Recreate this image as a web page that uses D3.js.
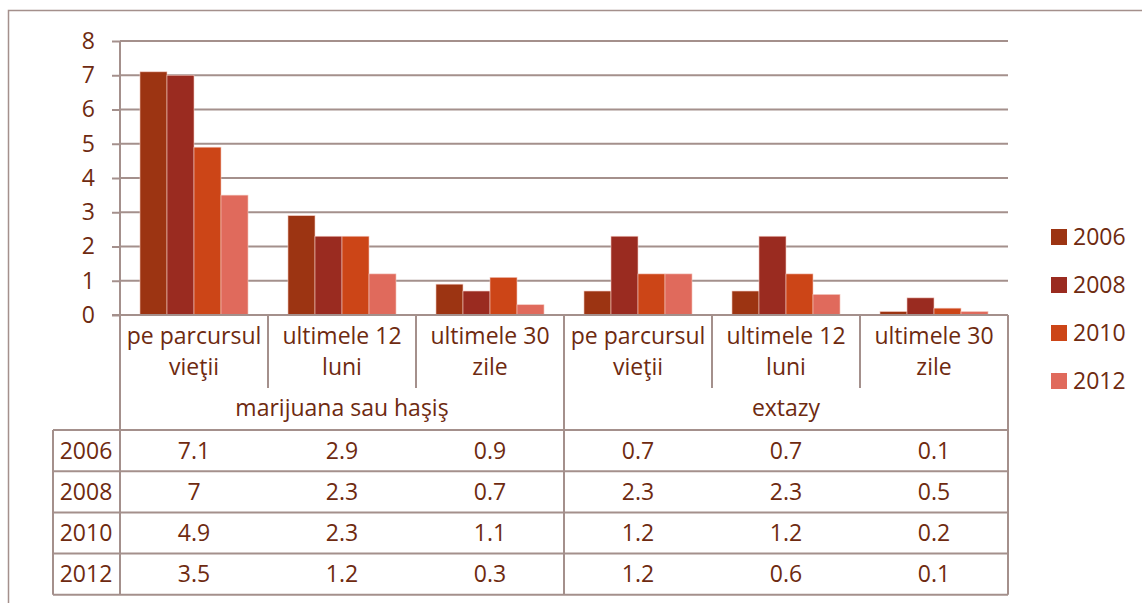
<!DOCTYPE html>
<html>
<head>
<meta charset="utf-8">
<script src="https://cdn.jsdelivr.net/npm/d3@7"></script>
<style>
  body { margin: 0; background: #fff; }
  svg { font-family: "Open Sans", Lato, sans-serif; }
</style>
</head>
<body>
<svg id="chart"></svg>
<script>
// Data
const groups = ["marijuana sau haşiş", "extazy"];
const periods = [["pe parcursul", "vieţii"], ["ultimele 12", "luni"], ["ultimele 30", "zile"]];
const years = ["2006", "2008", "2010", "2012"];
const values2006 = [7.1, 2.9, 0.9, 0.7, 0.7, 0.1];
const values2008 = [7, 2.3, 0.7, 2.3, 2.3, 0.5];
const values2010 = [4.9, 2.3, 1.1, 1.2, 1.2, 0.2];
const values2012 = [3.5, 1.2, 0.3, 1.2, 0.6, 0.1];
const yTicks = [0, 1, 2, 3, 4, 5, 6, 7, 8];

const series = [values2006, values2008, values2010, values2012];
const colors = ["#9c3412", "#9a2b20", "#cc4517", "#e06a5c"];
const textColor = "#6e2a10";
const lineColor = "#a4908c";
const fontSize = 23;

const width = 1142, height = 603;
const svg = d3.select("#chart").attr("width", width).attr("height", height);

// category keys
const cats = [];
groups.forEach((g, gi) => periods.forEach((p, pi) => cats.push({ key: gi + "-" + pi, group: g, gi, label: p })));

const x = d3.scaleBand().domain(cats.map(d => d.key)).range([120, 1008]).padding(0);
const xInner = d3.scaleBand().domain(years).range([0, x.bandwidth()]).paddingInner(0).paddingOuter(0.74);
const y = d3.scaleLinear().domain([0, 8]).range([315, 41]);

// outer frame
svg.append("rect")
  .attr("x", 8.5).attr("y", 10.5).attr("width", 1140).attr("height", 610)
  .attr("fill", "none").attr("stroke", lineColor).attr("stroke-width", 1.5);

// gridlines + y labels
const yAxis = svg.append("g").attr("transform", "translate(120,0)")
  .call(d3.axisLeft(y).tickValues(yTicks).tickSize(8).tickPadding(17).tickFormat(d3.format("d")));
yAxis.select(".domain").remove();
yAxis.selectAll(".tick line").attr("stroke", lineColor).attr("stroke-width", 2);
yAxis.selectAll(".tick text").attr("fill", textColor).attr("font-size", fontSize)
  .attr("font-family", "'Open Sans', Lato, sans-serif");

svg.append("g").selectAll("line").data(yTicks.filter(d => d > 0)).join("line")
  .attr("x1", 120).attr("x2", 1008)
  .attr("y1", d => y(d)).attr("y2", d => y(d))
  .attr("stroke", lineColor).attr("stroke-width", 2);

// bars
const barG = svg.append("g");
years.forEach((yr, si) => {
  barG.append("g").selectAll("rect").data(series[si]).join("rect")
    .attr("x", (d, i) => x(cats[i].key) + xInner(yr))
    .attr("y", d => y(d))
    .attr("width", xInner.bandwidth())
    .attr("height", d => y(0) - y(d))
    .attr("fill", colors[si])
    .attr("stroke", "#f3c9c0").attr("stroke-width", 0.6);
});

// baseline
svg.append("line").attr("x1", 112).attr("x2", 1008).attr("y1", y(0)).attr("y2", y(0))
  .attr("stroke", lineColor).attr("stroke-width", 2);

// vertical axis line down to table bottom
const tableTop = 430, rowH = 41.2;
const tableBottom = tableTop + rowH * years.length;
svg.append("line").attr("x1", 120).attr("x2", 120).attr("y1", y(8)).attr("y2", tableBottom)
  .attr("stroke", lineColor).attr("stroke-width", 2);

// category dividers
cats.forEach((c, i) => {
  const xr = x(c.key) + x.bandwidth();
  const isGroupEnd = i % periods.length === periods.length - 1;
  svg.append("line").attr("x1", xr).attr("x2", xr)
    .attr("y1", y(0)).attr("y2", isGroupEnd ? tableBottom : 388)
    .attr("stroke", lineColor).attr("stroke-width", 2);
  c.label.forEach((t, li) => {
    svg.append("text").attr("x", x(c.key) + x.bandwidth() / 2).attr("y", 344 + li * 31)
      .attr("text-anchor", "middle").attr("fill", textColor).attr("font-size", fontSize).text(t);
  });
});

// group labels
groups.forEach((g, gi) => {
  const first = cats.find(c => c.gi === gi), last = cats.filter(c => c.gi === gi).pop();
  const cx = (x(first.key) + x(last.key) + x.bandwidth()) / 2;
  svg.append("text").attr("x", cx).attr("y", 416).attr("text-anchor", "middle")
    .attr("fill", textColor).attr("font-size", fontSize).text(g);
});

// data table
const tbl = svg.append("g");
years.forEach((yr, si) => {
  const ty = tableTop + si * rowH;
  tbl.append("line").attr("x1", 53).attr("x2", 1008).attr("y1", ty).attr("y2", ty)
    .attr("stroke", lineColor).attr("stroke-width", 2);
  tbl.append("text").attr("x", 86).attr("y", ty + rowH / 2 + 8).attr("text-anchor", "middle")
    .attr("fill", textColor).attr("font-size", fontSize).text(yr);
  series[si].forEach((v, i) => {
    tbl.append("text").attr("x", x(cats[i].key) + x.bandwidth() / 2).attr("y", ty + rowH / 2 + 8)
      .attr("text-anchor", "middle").attr("fill", textColor).attr("font-size", fontSize).text(v);
  });
});
tbl.append("line").attr("x1", 53).attr("x2", 1008).attr("y1", tableBottom).attr("y2", tableBottom)
  .attr("stroke", lineColor).attr("stroke-width", 2);
tbl.append("line").attr("x1", 53).attr("x2", 53).attr("y1", tableTop).attr("y2", tableBottom)
  .attr("stroke", lineColor).attr("stroke-width", 2);

// legend
const legend = svg.append("g").selectAll("g").data(years).join("g")
  .attr("transform", (d, i) => `translate(1051,${229 + i * 48})`);
legend.append("rect").attr("width", 16).attr("height", 16).attr("fill", (d, i) => colors[i]);
legend.append("text").attr("x", 22).attr("y", 16).attr("fill", textColor).attr("font-size", fontSize).text(d => d);
</script>
</body>
</html>
